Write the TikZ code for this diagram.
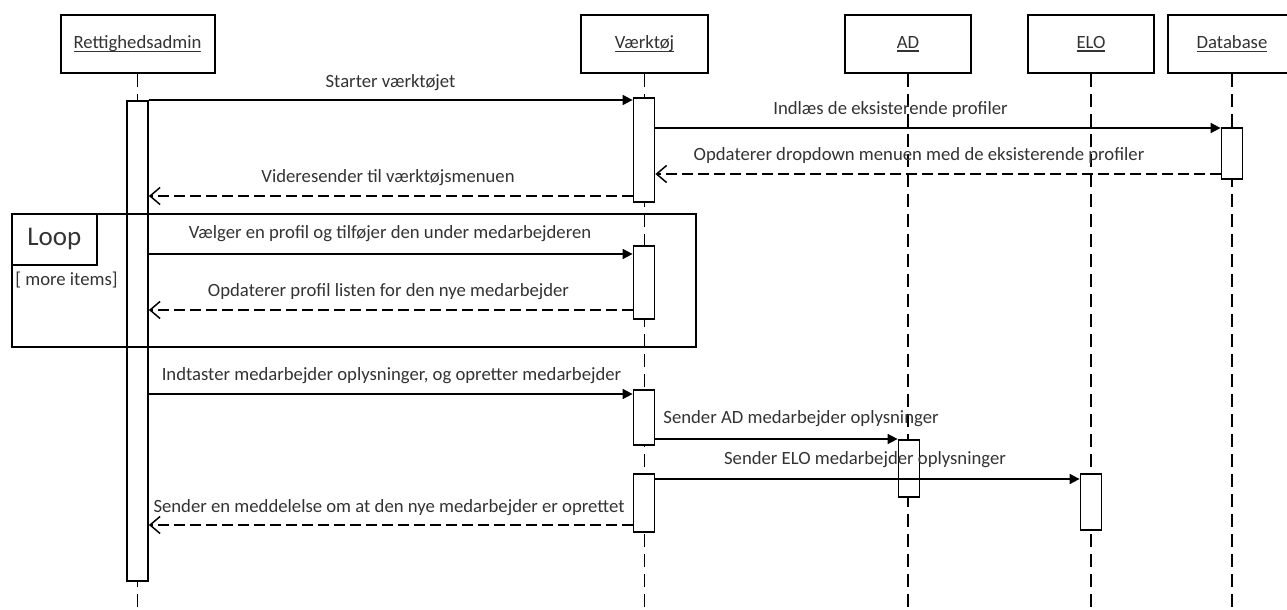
\documentclass[tikz,border=0pt]{standalone}
\usepackage{fontspec}
\setmainfont{Carlito}
\usetikzlibrary{arrows.meta}
\definecolor{txt}{HTML}{333333}
\newcommand\ulin[1]{\setbox0\hbox{#1}\rlap{\vrule height -2.2pt depth 3.6pt width \wd0}\box0}
\begin{document}
\begin{tikzpicture}[x=1pt,y=-1pt,
  lbl/.style={font=\fontsize{18.7}{22}\selectfont, text=txt, inner sep=0pt, anchor=base},
  head/.style={draw=black, line width=2pt, minimum width=#1, minimum height=58pt, inner sep=0pt, anchor=north, font=\fontsize{18.7}{22}\selectfont, text=txt},
  bar/.style={draw=black, fill=white, line width=1.8pt, minimum width=21pt, minimum height=#1, inner sep=0pt, anchor=north},
  life/.style={line width=1.7pt, dash pattern=on 13pt off 7pt},
  frame/.style={draw=black, line width=1.8pt, inner sep=0pt, anchor=north west},
  call/.style={line width=1.7pt, -{Triangle[length=10pt,width=10pt]}},
  ret/.style={line width=1.6pt, dash pattern=on 11pt off 5pt, -{Straight Barb[length=10pt,width=17pt,line width=1.5pt]}},
]
\useasboundingbox (0,0) rectangle (1287,610);
\clip (0,0) rectangle (1287,610);
\fill[white] (0,0) rectangle (1287,610);

% header boxes
\node[head=154pt] (ra) at (137.5,14) {\ulin{Rettighedsadmin}};
\node[head=127pt] (vk) at (644.5,14) {\ulin{Værktøj}};
\node[head=126pt] (ad) at (908,14) {\ulin{AD}};
\node[head=126pt] (elo) at (1091,14) {\ulin{ELO}};
\node[head=128pt] (db) at (1232,14) {\ulin{Database}};

% lifeline ends
\coordinate (raE) at (137.5,612);
\coordinate (vkE) at (644,612);
\coordinate (adE) at (908,612);
\coordinate (eloE) at (1091,612);
\coordinate (dbE) at (1232,612);

% lifelines
\draw[life] (ra.south) -- (ra.south |- raE);
\draw[life] (vk.south) -- (vk.south |- vkE);
\draw[life] (ad.south) -- (ad.south |- adE);
\draw[life] (elo.south) -- (elo.south |- eloE);
\draw[life] (db.south) -- (db.south |- dbE);

% activation bars
\node[bar=480pt] (a1) at (137.5,100) {};
\node[bar=104pt] (v1) at (644,97) {};
\node[bar=73pt] (v2) at (644,245) {};
\node[bar=55pt] (v3) at (644,389) {};
\node[bar=58pt] (v4) at (644,473) {};
\node[bar=51pt] (d1) at (1232,127) {};
\node[bar=57pt] (ad1) at (909,439) {};
\node[bar=56pt] (e1) at (1091,473) {};

% loop fragment
\node[frame, minimum width=684pt, minimum height=133pt] (loop) at (11,213) {};
\node[frame, minimum width=85pt, minimum height=51pt, font=\fontsize{27}{30}\selectfont, text=txt] (looplbl) at (11,213) {Loop};
\node[lbl, anchor=center] (guard) at (66.5,280) {[ more items]};

% messages
\draw[call] (a1.east |- 0,100) -- (v1.west |- 0,100);
\draw[call] (v1.east |- 0,128) -- (d1.west |- 0,128);
\draw[ret] (d1.west |- 0,174) -- (v1.east |- 0,174);
\draw[ret] (v1.west |- 0,196) -- (a1.east |- 0,196);
\draw[call] (a1.east |- 0,254) -- (v2.west |- 0,254);
\draw[ret] (v2.west |- 0,310) -- (a1.east |- 0,310);
\draw[call] (a1.east |- 0,394) -- (v3.west |- 0,394);
\draw[call] (v3.east |- 0,439) -- (ad1.west |- 0,439);
\draw[call] (v4.east |- 0,479) -- (e1.west |- 0,479);
\draw[ret] (v4.west |- 0,525) -- (a1.east |- 0,525);

% labels
\node[lbl] (l1) at (390.5,87) {Starter værktøjet};
\node[lbl] (l2) at (890.5,114) {Indlæs de eksisterende profiler};
\node[lbl] (l3) at (919,160) {Opdaterer dropdown menuen med de eksisterende profiler};
\node[lbl] (l4) at (388,182) {Videresender til værktøjsmenuen};
\node[lbl] (l5) at (390,238) {Vælger en profil og tilføjer den under medarbejderen};
\node[lbl] (l6) at (388.5,296) {Opdaterer profil listen for den nye medarbejder};
\node[lbl] (l7) at (391.5,380) {Indtaster medarbejder oplysninger, og opretter medarbejder};
\node[lbl] (l8) at (801,423) {Sender AD medarbejder oplysninger};
\node[lbl] (l9) at (865,464) {Sender ELO medarbejder oplysninger};
\node[lbl] (l10) at (389,512) {Sender en meddelelse om at den nye medarbejder er oprettet};
\end{tikzpicture}
\end{document}
